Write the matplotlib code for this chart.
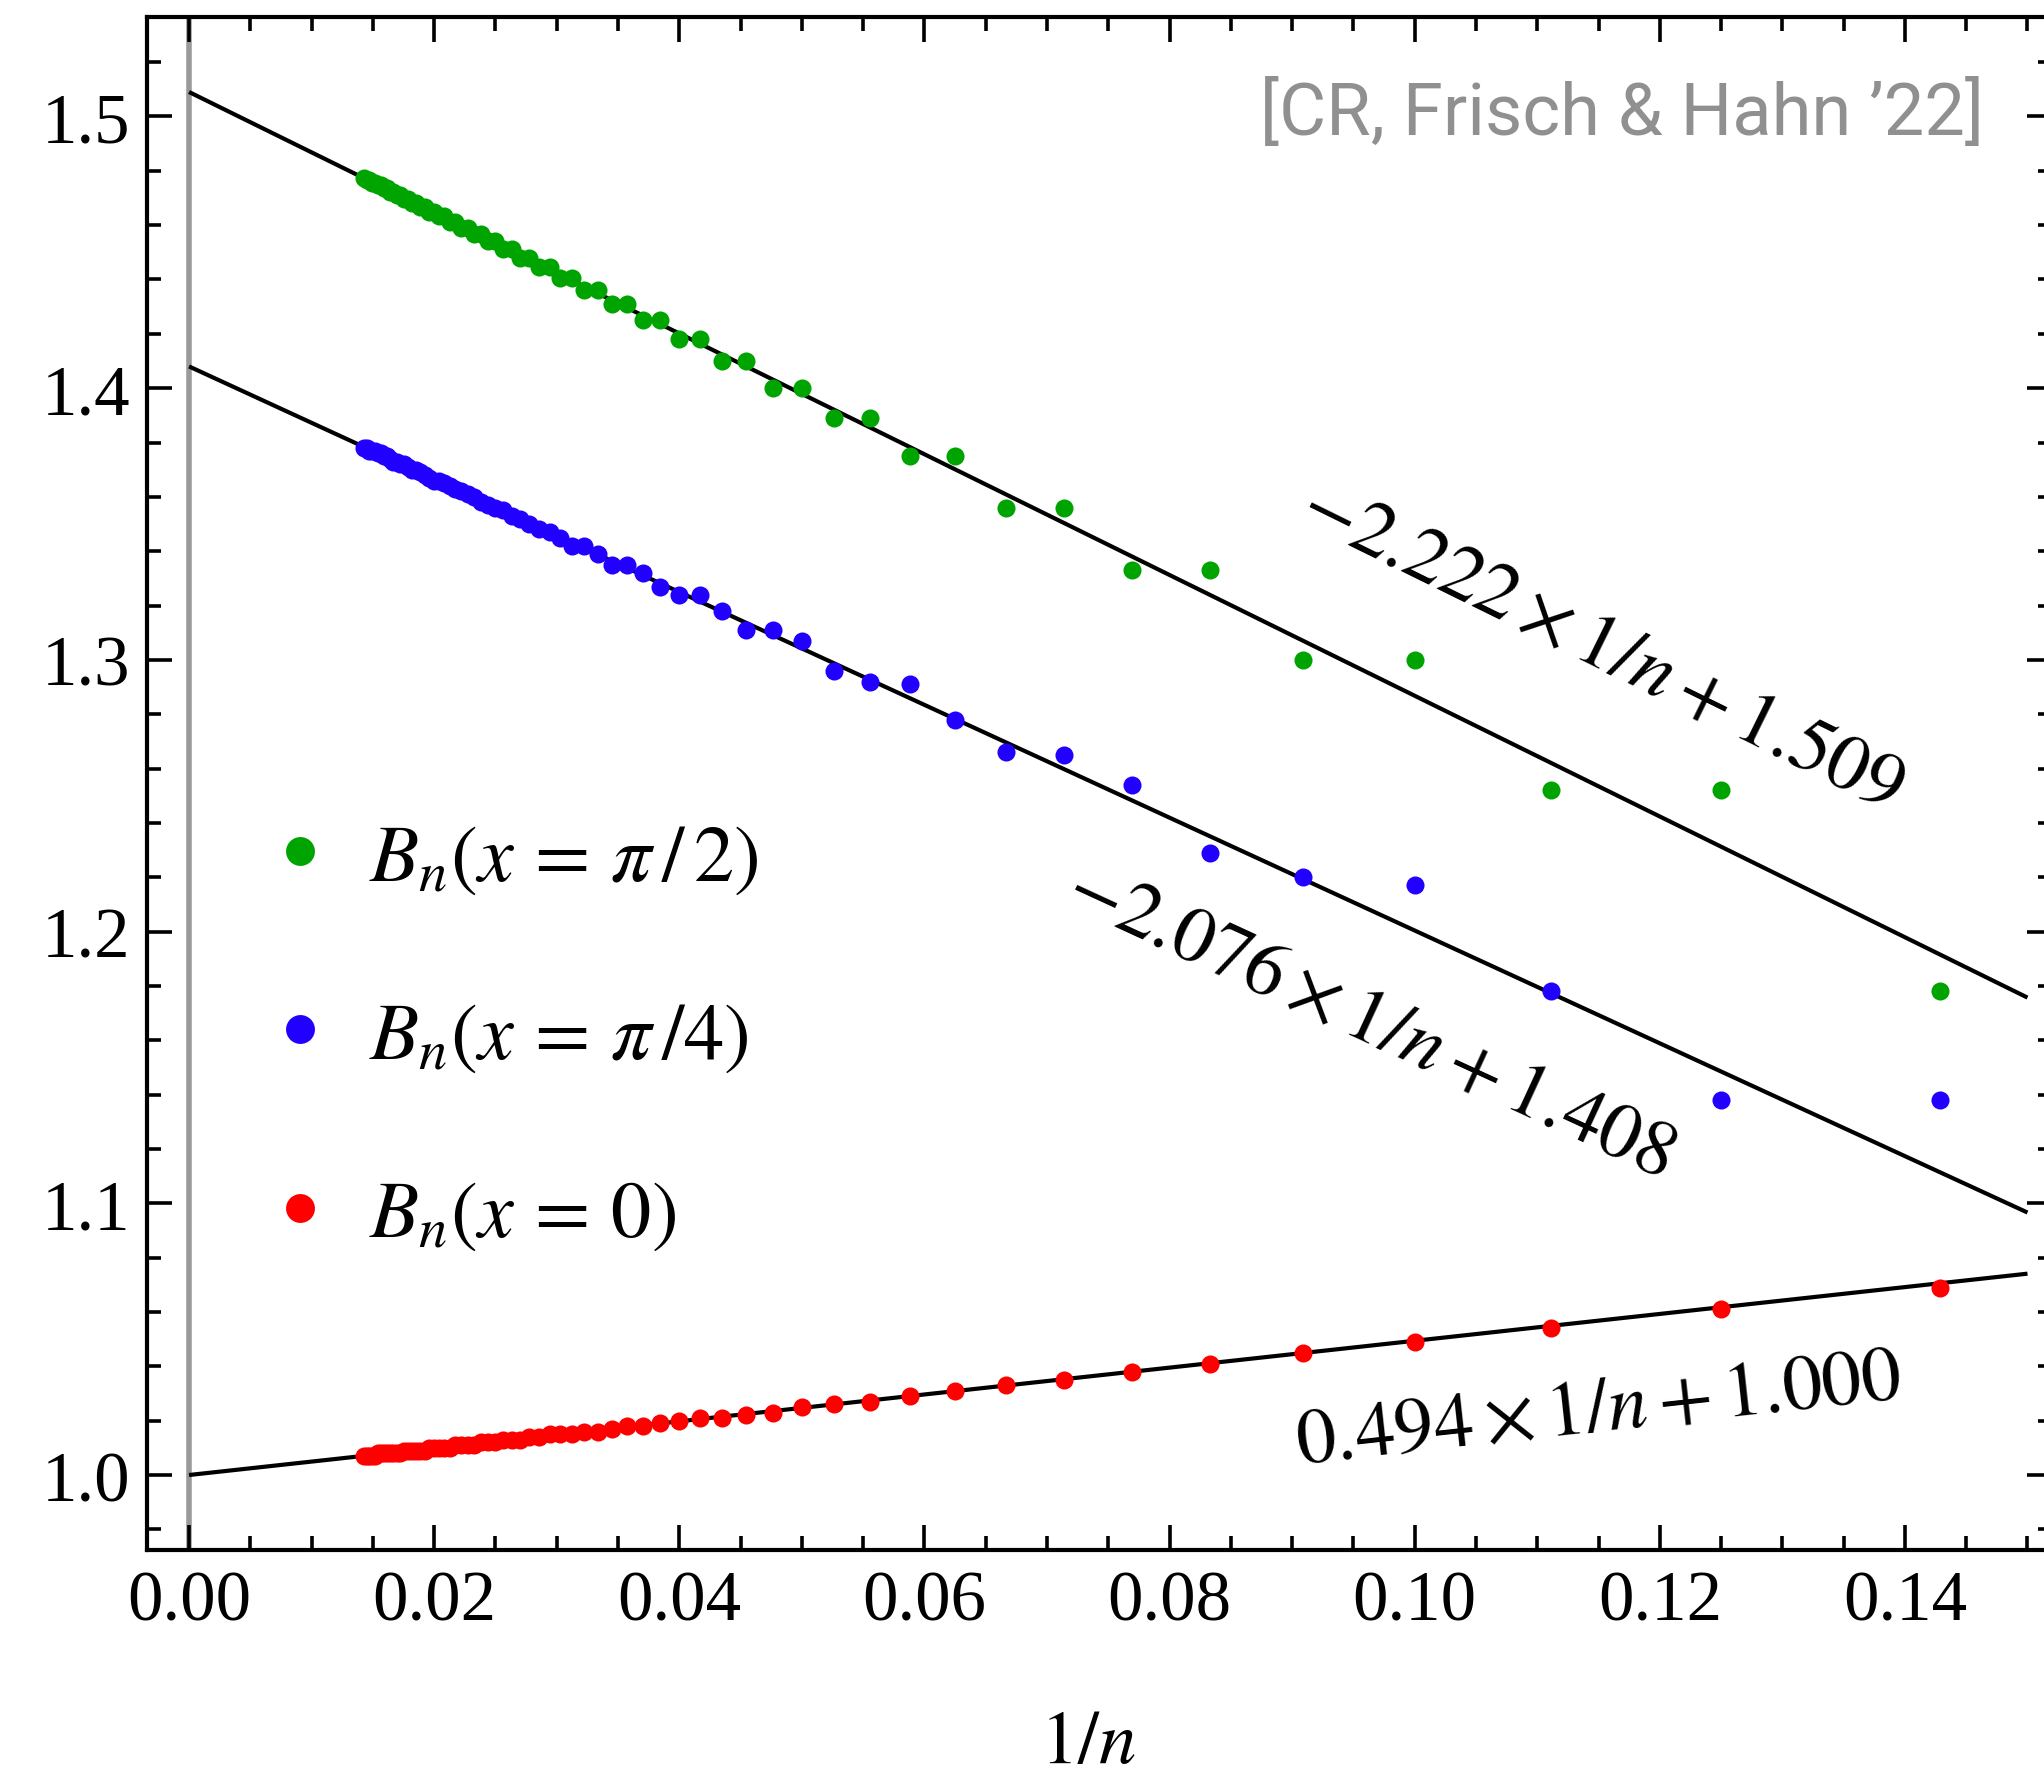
import numpy as np
import matplotlib
matplotlib.use("Agg")
import matplotlib.pyplot as plt
from matplotlib.ticker import MultipleLocator, FormatStrFormatter

# ---------------- data ----------------
n_values = [7, 8, 9, 10, 11, 12, 13, 14, 15, 16, 17, 18, 19, 20, 21, 22, 23, 24, 25, 26,
            27, 28, 29, 30, 31, 32, 33, 34, 35, 36, 37, 38, 39, 40, 41, 42, 43, 44, 45, 46,
            47, 48, 49, 50, 51, 52, 53, 54, 55, 56, 57, 58, 59, 60, 61, 62, 63, 64, 65, 66,
            67, 68, 69, 70]

B_pi2 = [1.178, 1.252, 1.252, 1.300, 1.300, 1.333, 1.333, 1.356, 1.356, 1.375, 1.375,
         1.389, 1.389, 1.400, 1.400, 1.410, 1.410, 1.418, 1.418, 1.425, 1.425, 1.431, 1.431,
         1.436, 1.436, 1.4405, 1.4405, 1.4445, 1.4445, 1.448, 1.448, 1.4512, 1.4512, 1.4542,
         1.4542, 1.4567, 1.4567, 1.459, 1.459, 1.4612, 1.4612, 1.4632, 1.4632, 1.465, 1.465,
         1.4667, 1.4667, 1.4683, 1.4683, 1.4697, 1.4697, 1.471, 1.471, 1.4723, 1.4723,
         1.4735, 1.4735, 1.4746, 1.4746, 1.4756, 1.4756, 1.4766, 1.4766, 1.4773]

B_pi4 = [1.138, 1.138, 1.178, 1.217, 1.220, 1.229, 1.254, 1.265, 1.266, 1.278, 1.291,
         1.292, 1.296, 1.307, 1.311, 1.311, 1.318, 1.324, 1.324, 1.327, 1.332, 1.335, 1.335,
         1.339, 1.342, 1.342, 1.345, 1.347, 1.348, 1.350, 1.352, 1.353, 1.355, 1.356, 1.357,
         1.358, 1.360, 1.361, 1.362, 1.363, 1.364, 1.365, 1.366, 1.366, 1.367, 1.368, 1.369,
         1.370, 1.370, 1.371, 1.372, 1.372, 1.373, 1.373, 1.374, 1.375, 1.375, 1.376, 1.376,
         1.377, 1.377, 1.377, 1.378, 1.378]

B_0 = [1.069, 1.061, 1.054, 1.049, 1.045, 1.041, 1.038, 1.035, 1.033, 1.031, 1.029,
       1.027, 1.026, 1.025, 1.023, 1.022, 1.021, 1.021, 1.020, 1.019, 1.018, 1.018, 1.017,
       1.016, 1.016, 1.015, 1.015, 1.015, 1.014, 1.014, 1.013, 1.013, 1.013, 1.012, 1.012,
       1.012, 1.011, 1.011, 1.011, 1.011, 1.010, 1.010, 1.010, 1.010, 1.010, 1.009, 1.009,
       1.009, 1.009, 1.009, 1.009, 1.008, 1.008, 1.008, 1.008, 1.008, 1.008, 1.008, 1.008,
       1.007, 1.007, 1.007, 1.007, 1.007]

series_labels = [r"$B_n(x\,=\,\pi\,/\,2)$", r"$B_n(x\,=\,\pi\,/4)$", r"$B_n(x\,=\,0)$"]
series_colors = ["#00A400", "#2200FF", "#FF0000"]

fit_slopes = [-2.222, -2.076, 0.494]
fit_intercepts = [1.509, 1.408, 1.000]
fit_labels = [r"$-2.222\times 1/n+1.509$", r"$-2.076\times 1/n+1.408$", r"$0.494\times 1/n+1.000$"]
fit_label_pos = [(0.1152, 1.3047), (0.0963, 1.1667), (0.1150, 1.0236)]
fit_x_range = [0.0, 0.15]

citation = "[CR, Frisch & Hahn \u201922]"

# ---------------- style ----------------
plt.rcParams["font.family"] = ["Liberation Serif", "DejaVu Serif"]
plt.rcParams["mathtext.fontset"] = "stix"

W, H = 2044, 1783
fig = plt.figure(figsize=(W / 100, H / 100), dpi=100)
L, R, T, B = 147, 2052, 18, 1551
ax = fig.add_axes([L / W, 1 - B / H, (R - L) / W, (B - T) / H])

x = 1.0 / np.array(n_values, dtype=float)
xf = np.array(fit_x_range)

ax.axvline(0.0, color="#9a9a9a", lw=4.0, zorder=1)

for m, b in zip(fit_slopes, fit_intercepts):
    ax.plot(xf, b + m * xf, color="black", lw=3.0, zorder=2, solid_capstyle="butt")

handles = []
for ys, c, lab in zip([B_pi2, B_pi4, B_0], series_colors, series_labels):
    h, = ax.plot(x, ys, "o", color=c, ms=13, mew=0, zorder=3, label=lab)
    handles.append(h)

ax.set_xlim(-0.00343, 0.152)
ax.set_ylim(0.9724, 1.5366)

ax.xaxis.set_major_locator(MultipleLocator(0.02))
ax.xaxis.set_minor_locator(MultipleLocator(0.005))
ax.yaxis.set_major_locator(MultipleLocator(0.1))
ax.yaxis.set_minor_locator(MultipleLocator(0.02))
ax.xaxis.set_major_formatter(FormatStrFormatter("%.2f"))
ax.yaxis.set_major_formatter(FormatStrFormatter("%.1f"))

ax.tick_params(which="both", direction="in", top=True, right=True, width=2.6, labelsize=51)
ax.tick_params(which="major", length=18)
ax.tick_params(which="minor", length=10)
ax.tick_params(axis="y", which="major", pad=12)
ax.tick_params(axis="x", which="major", pad=14)
for s in ax.spines.values():
    s.set_linewidth(3.0)

ax.set_xlabel(r"$1/n$", fontsize=54)
ax.xaxis.set_label_coords(0.494, -0.127)
ax.xaxis.label.set_va("center")

leg = ax.legend(handles=handles, loc="center left", bbox_to_anchor=(0.0593, 0.334),
                frameon=False, fontsize=58, markerscale=1.6, handlelength=1.0,
                handletextpad=0.35, labelspacing=1.3, borderpad=0, borderaxespad=0)

fig.canvas.draw()
for m, b, lab, (tx, ty) in zip(fit_slopes, fit_intercepts, fit_labels, fit_label_pos):
    p1 = ax.transData.transform((0.0, b))
    p2 = ax.transData.transform((0.15, b + m * 0.15))
    ang = np.degrees(np.arctan2(p2[1] - p1[1], p2[0] - p1[0]))
    ax.text(tx, ty, lab, fontsize=57, rotation=ang, rotation_mode="anchor",
            ha="center", va="center", zorder=4)

ax.text(0.9643, 0.9367, citation, transform=ax.transAxes, ha="right", va="center",
        fontsize=52, color="#909090", family=["Roboto", "DejaVu Sans"])

fig.savefig("out.png", dpi=100)
